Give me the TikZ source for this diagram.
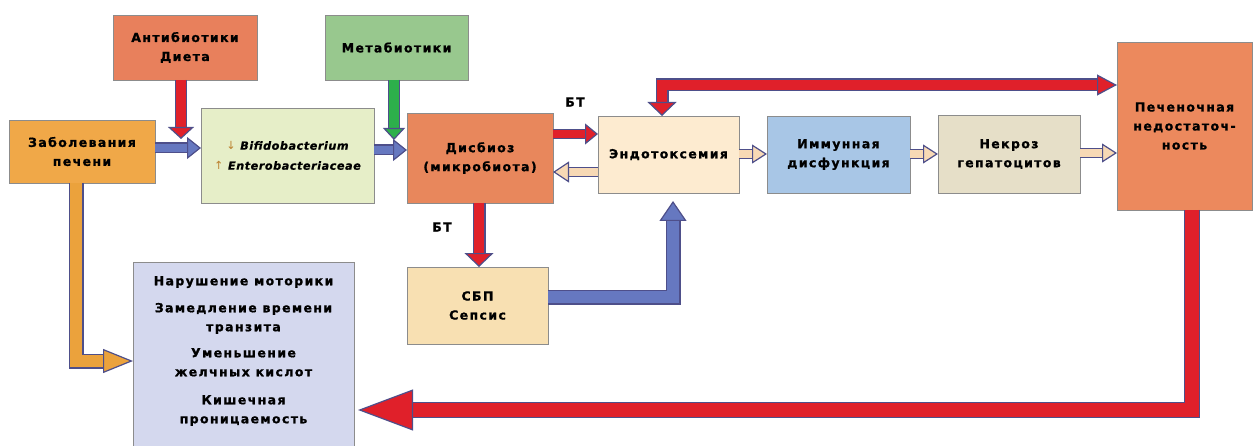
\documentclass[tikz,border=0pt]{standalone}
\usepackage{fontspec}
\setmainfont{DejaVu Sans}
\usetikzlibrary{arrows.meta}
\definecolor{outl}{HTML}{4E4F8A}
\definecolor{redA}{HTML}{E0202A}
\definecolor{blueA}{HTML}{6678C0}
\definecolor{greenA}{HTML}{2DB04B}
\definecolor{creamA}{HTML}{F7D9B5}
\definecolor{orangeA}{HTML}{EBA23C}
\definecolor{cAb}{HTML}{E8805C}
\definecolor{cMeta}{HTML}{98C88E}
\definecolor{cZab}{HTML}{F0A848}
\definecolor{cBif}{HTML}{E6EEC8}
\definecolor{cDis}{HTML}{E8875C}
\definecolor{cEndo}{HTML}{FDEBD0}
\definecolor{cImm}{HTML}{A8C6E6}
\definecolor{cNek}{HTML}{E6DFC8}
\definecolor{cPech}{HTML}{EC895D}
\definecolor{cSbp}{HTML}{F8E0B2}
\definecolor{cLav}{HTML}{D4D8EE}
\newcommand{\bxfont}{\fontsize{12.5}{19}\selectfont\bfseries\addfontfeatures{LetterSpace=11,FakeBold=1}}
\newcommand{\bifont}{\fontsize{11.2}{20}\selectfont\bfseries\itshape\addfontfeatures{LetterSpace=5,FakeBold=0.8}}
\tikzset{
  box/.style={draw=black!45, line width=0.9pt, inner sep=0pt, outer sep=0pt, align=center, font=\bxfont},
  arr/.style n args={4}{line width=#2, draw=#1, line join=miter,
    -{Triangle[length=#3, width=#4, line width=1.2pt, fill=#1, color=outl]},
    preaction={draw=outl, line width=#2+2.4pt, arrows=-, shorten >=#3-1.5pt}},
  lbl/.style={font=\bxfont, inner sep=0pt}
}
\begin{document}
\begin{tikzpicture}[x=1pt,y=-1pt]
\useasboundingbox (0,0) rectangle (1257,446);
\clip (0,0) rectangle (1257,446);
% boxes
\node[box, fill=cAb, minimum width=144pt, minimum height=65pt] (ab) at (185,47.5) {Антибиотики\\Диета};
\node[box, fill=cMeta, minimum width=143pt, minimum height=65pt] (meta) at (396.5,47.5) {Метабиотики};
\node[box, fill=cZab, minimum width=146pt, minimum height=63pt] (zab) at (82,151.5) {Заболевания\\печени};
\node[box, fill=cBif, minimum width=173pt, minimum height=95pt, font=\bifont] (bif) at (287.5,155.5) {\textcolor{orangeA!80!black}{\normalfont ↓} Bifidobacterium\\\textcolor{orangeA!80!black}{\normalfont ↑} Enterobacteriaceae};
\node[box, fill=cDis, minimum width=146pt, minimum height=90pt] (dis) at (480,158) {Дисбиоз\\(микробиота)};
\node[box, fill=cEndo, minimum width=141pt, minimum height=77pt] (endo) at (668.5,154.5) {Эндотоксемия};
\node[box, fill=cImm, minimum width=143pt, minimum height=77pt] (imm) at (838.5,154.5) {Иммунная\\дисфункция};
\node[box, fill=cNek, minimum width=142pt, minimum height=78pt] (nek) at (1009,154) {Некроз\\гепатоцитов};
\node[box, fill=cPech, minimum width=135pt, minimum height=168pt] (pech) at (1184.5,126) {Печеночная\\недостаточ-\\ность};
\node[box, fill=cSbp, minimum width=141pt, minimum height=77pt] (sbp) at (477.5,305.5) {СБП\\Сепсис};
\node[box, fill=cLav, minimum width=221pt, minimum height=190pt] (lav) at (243.5,357) {};
\node[lbl, align=center] (lavtext) at (243.5,351) {Нарушение моторики\\[8pt]Замедление времени\\транзита\\[7pt]Уменьшение\\желчных кислот\\[9pt]Кишечная\\проницаемость};
% labels
\node[lbl] (bt1) at (575,102) {БТ};
\node[lbl] (bt2) at (442,227) {БТ};
% helper coordinates
\coordinate (t1) at (181,139);
\coordinate (t2) at (394,140);
\coordinate (h3) at (0,148);
\coordinate (h4) at (0,150);
\coordinate (h5) at (0,134);
\coordinate (h6) at (0,172);
\coordinate (h7) at (0,154);
\coordinate (h9) at (0,153);
\coordinate (v10) at (662,85);
\coordinate (v11) at (479,0);
\coordinate (c12) at (673,297);
\coordinate (t12) at (673,201);
\coordinate (c13) at (1192,410);
\coordinate (t13) at (358,410);
\coordinate (c14) at (76,361);
% arrows
\draw[arr={redA}{10.5pt}{12pt}{26pt}] (ab.south -| t1) -- (t1);
\draw[arr={greenA}{10pt}{12pt}{22pt}] (meta.south -| t2) -- (t2);
\draw[arr={blueA}{8.6pt}{14pt}{22pt}] (zab.east |- h3) -- (bif.west |- h3);
\draw[arr={blueA}{8.6pt}{14pt}{22pt}] (bif.east |- h4) -- (dis.west |- h4);
\draw[arr={redA}{7.6pt}{13pt}{21pt}] (dis.east |- h5) -- (endo.west |- h5);
\draw[arr={creamA}{7.6pt}{16pt}{21pt}] (endo.west |- h6) -- (dis.east |- h6);
\draw[arr={creamA}{8pt}{15pt}{19pt}] (endo.east |- h7) -- (imm.west |- h7);
\draw[arr={creamA}{8pt}{15pt}{19pt}] (imm.east |- h7) -- (nek.west |- h7);
\draw[arr={creamA}{8pt}{15pt}{19pt}] (nek.east |- h9) -- (pech.west |- h9);
\draw[line width=10.6pt, draw=redA, line join=miter,
  {Triangle[length=14pt, width=29pt, line width=1.2pt, fill=redA, color=outl]}-{Triangle[length=20pt, width=21pt, line width=1.2pt, fill=redA, color=outl]},
  preaction={draw=outl, line width=13pt, arrows=-, shorten <=12.5pt, shorten >=18.5pt}]
  (endo.north -| v10) |- (pech.west |- v10);
\draw[arr={redA}{10.6pt}{14pt}{29pt}] (dis.south -| v11) -- (sbp.north -| v11);
\draw[arr={blueA}{12.6pt}{20pt}{27pt}] (sbp.east |- c12) -| (t12);
\draw[arr={redA}{13.6pt}{55pt}{41pt}] (pech.south -| c13) |- (t13);
\draw[arr={orangeA}{12.6pt}{30pt}{24pt}] (zab.south -| c14) |- (lav.west |- c14);
\end{tikzpicture}
\end{document}
